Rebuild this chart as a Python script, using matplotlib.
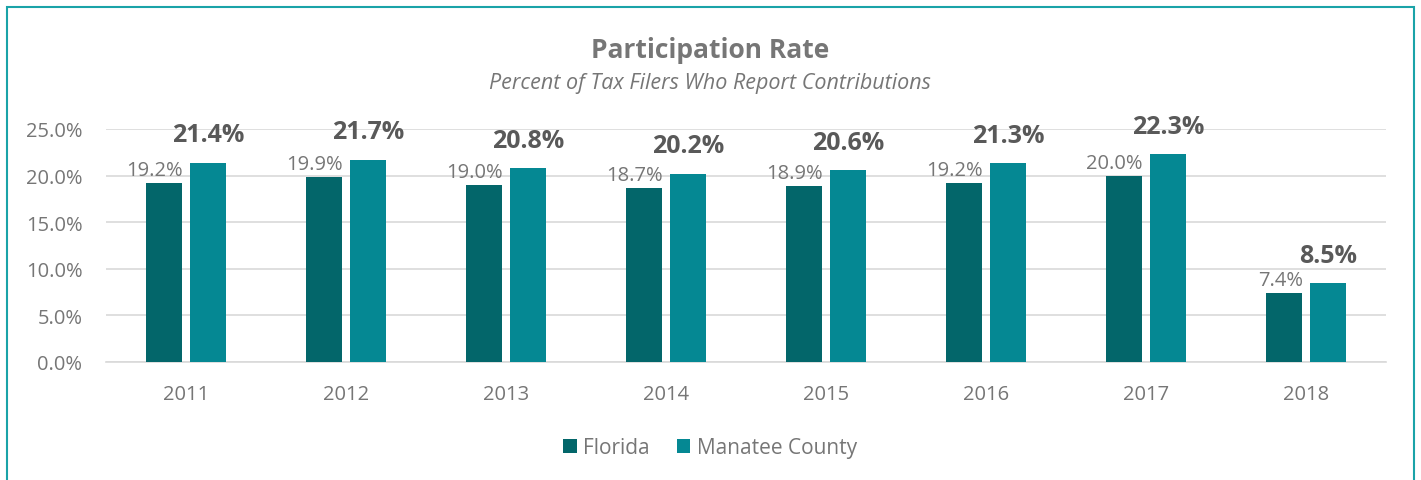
"""
Participation rate bar chart
"""
import matplotlib
matplotlib.use('Agg')
import matplotlib.pyplot as plt
import numpy as np
from matplotlib.patches import Rectangle

years = ['2011', '2012', '2013', '2014', '2015', '2016', '2017', '2018']
florida = [19.2, 19.9, 19.0, 18.7, 18.9, 19.2, 20.0, 7.4]
manatee = [21.4, 21.7, 20.8, 20.2, 20.6, 21.3, 22.3, 8.5]

c_fl = '#03666A'
c_mc = '#058893'
c_text = '#767676'
c_bold = '#595959'

plt.rcParams['font.family'] = ['Open Sans', 'DejaVu Sans']

fig = plt.figure(figsize=(14.21, 4.81), dpi=100)
ax = fig.add_axes([106 / 1421, 1 - 363 / 481, 1280 / 1421, 233 / 481])

x = np.arange(len(years))
w = 0.225
off = 0.14
b1 = ax.bar(x - off, florida, w, color=c_fl, label='Florida', zorder=3)
b2 = ax.bar(x + off, manatee, w, color=c_mc, label='Manatee County', zorder=3)

# value labels
for xi, v in zip(x, florida):
    ax.annotate(f'{v:.1f}%', xy=(xi - off + w / 2, v), xytext=(1, 2),
                textcoords='offset points', ha='right', va='bottom',
                fontsize=14.5, color=c_text, annotation_clip=False)
for xi, v in zip(x, manatee):
    ax.annotate(f'{v:.1f}%', xy=(xi + off, v), xytext=(0, 11),
                textcoords='offset points', ha='center', va='bottom',
                fontsize=18, fontweight='bold', color=c_bold, annotation_clip=False)

ax.set_xlim(-0.5, len(years) - 0.5)
ax.set_ylim(0, 25)
ax.set_yticks([0, 5, 10, 15, 20, 25])
ax.set_yticklabels([f'{t:.1f}%' for t in [0, 5, 10, 15, 20, 25]])
ax.set_xticks(x)
ax.set_xticklabels(years)
ax.tick_params(length=0, labelsize=14.5, labelcolor=c_text)
ax.tick_params(axis='x', pad=16)
ax.tick_params(axis='y', pad=17)
ax.grid(axis='y', color='#D9D9D9', linewidth=1.2, zorder=0)
for s in ['top', 'right', 'left']:
    ax.spines[s].set_visible(False)
ax.spines['bottom'].set_color('#D9D9D9')
ax.spines['bottom'].set_linewidth(1.2)

fig.text(710 / 1421, 1 - 50 / 481, 'Participation Rate', ha='center', va='center',
         fontsize=19, fontweight='bold', color=c_text)
fig.text(710 / 1421, 1 - 84 / 481, 'Percent of Tax Filers Who Report Contributions',
         ha='center', va='center', fontsize=15.5, style='italic', color=c_text)

fig.legend(handles=[b1, b2], loc='center', bbox_to_anchor=(710 / 1421, 1 - 449 / 481),
           ncol=2, frameon=False, fontsize=15, labelcolor=c_text,
           handlelength=0.65, handleheight=0.65, handletextpad=0.3, columnspacing=1.3)

# outer border
fig.patches.append(Rectangle((7 / 1421, -0.1), 1407 / 1421, 1.1 - 8 / 481,
                             transform=fig.transFigure, fill=False,
                             edgecolor='#1AA3A8', linewidth=1.5))

plt.savefig('out.png', dpi=100, facecolor='white')
plt.close()
